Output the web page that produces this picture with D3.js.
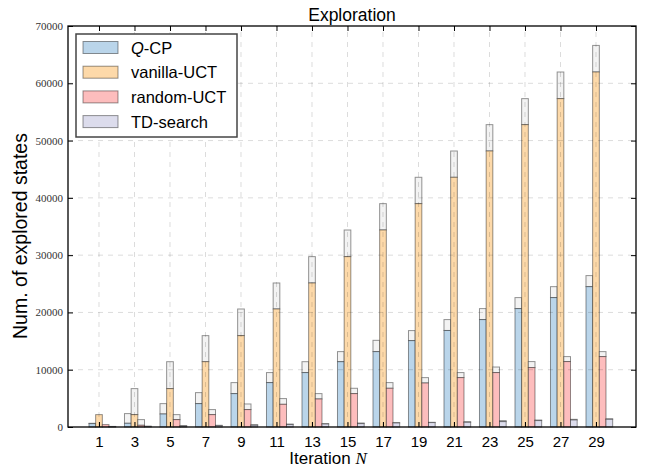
<!DOCTYPE html>
<html>
<head>
<meta charset="utf-8">
<script src="https://cdn.jsdelivr.net/npm/d3@7"></script>
<style>
  body { margin: 0; background: #fff; }
  svg { display: block; font-family: "Liberation Sans", Arial, sans-serif; }
</style>
</head>
<body>
<svg id="chart" width="646" height="470"></svg>
<script>
// iterations on the x axis
var iterations = [1, 3, 5, 7, 9, 11, 13, 15, 17, 19, 21, 23, 25, 27, 29];

// coloured part of each bar (explored states)
var qcp     = [590, 650, 2270, 4080, 5830, 7750, 9500, 11400, 13160, 15080, 16850, 18750, 20670, 22590, 24500];
var vanilla = [2160, 2160, 6700, 11400, 15950, 20600, 25140, 29740, 34390, 38990, 43590, 48180, 52780, 57320, 61970];
var random  = [420, 300, 1290, 2160, 3040, 3960, 4890, 5830, 6760, 7680, 8620, 9500, 10370, 11420, 12290];
var tdsearch = [50, 100, 150, 250, 300, 420, 520, 590, 700, 770, 820, 940, 1120, 1220, 1340];

// top of the white part stacked above each bar
var qcpTop     = [650, 2340, 4080, 6000, 7750, 9500, 11400, 13160, 15130, 16830, 18750, 20670, 22590, 24500, 26430];
var vanillaTop = [2160, 6700, 11400, 15950, 20600, 25140, 29740, 34390, 38990, 43590, 48180, 52780, 57320, 61970, 66610];
var randomTop  = [420, 1290, 2160, 3040, 4020, 4960, 5830, 6760, 7750, 8620, 9500, 10470, 11420, 12290, 13160];
var tdTop      = [100, 150, 250, 300, 420, 520, 590, 700, 770, 820, 940, 1120, 1220, 1340, 1450];

var yTicks = [0, 10000, 20000, 30000, 40000, 50000, 60000, 70000];

var series = [
  {name: "Q-CP", vals: qcp, tops: qcpTop, color: "#bad5ea"},
  {name: "vanilla-UCT", vals: vanilla, tops: vanillaTop, color: "#fdd9a9"},
  {name: "random-UCT", vals: random, tops: randomTop, color: "#fdbdbd"},
  {name: "TD-search", vals: tdsearch, tops: tdTop, color: "#dcdcec"}
];

var margin = {left: 68, right: 10, top: 26, bottom: 43};
var W = 646, H = 470;
var svg = d3.select("#chart");

var x = d3.scaleLinear()
  .domain([-0.746, 31.254])
  .range([margin.left, W - margin.right]);

var y = d3.scaleLinear().domain([0, 70000]).range([H - margin.bottom, margin.top]);

var bw = (x(3) - x(1)) * 0.188;

//// bars
var g = svg.append("g");
series.forEach(function(s, k) {
  var grp = g.append("g");
  // white part on top
  grp.selectAll(".top")
    .data(iterations)
    .enter()
    .append("rect")
    .attr("x", (d) => x(d) + (k - 1.5) * bw)
    .attr("width", bw)
    .attr("y", (d, i) => y(s.tops[i]))
    .attr("height", (d, i) => Math.max(0, y(s.vals[i]) - y(s.tops[i])))
    .attr("fill", "#f3f3f3")
    .attr("stroke", "rgba(0,0,0,0.42)")
    .attr("stroke-width", 1);
  grp.selectAll(".val")
    .data(iterations)
    .enter()
    .append("rect")
    .attr("x", (d) => x(d) + (k - 1.5) * bw)
    .attr("width", bw)
    .attr("y", (d, i) => y(s.vals[i]))
    .attr("height", (d, i) => y(0) - y(s.vals[i]))
    .attr("fill", s.color)
    .attr("stroke", "rgba(0,0,0,0.42)")
    .attr("stroke-width", 1);
});

//// grid on top (dashed, light)
var grid = svg.append("g").attr("stroke", "rgba(0,0,0,0.14)").attr("stroke-dasharray", "5,5");
grid.selectAll(".gx")
  .data(iterations)
  .enter()
  .append("line")
  .attr("x1", d => x(d)).attr("x2", d => x(d))
  .attr("y1", y(0)).attr("y2", y(70000));
grid.selectAll(".gy")
  .data(yTicks.slice(1, -1))
  .enter()
  .append("line")
  .attr("y1", d => y(d)).attr("y2", d => y(d))
  .attr("x1", margin.left).attr("x2", W - margin.right);

//// axes
var xAxis = d3.axisBottom(x).tickValues(iterations).tickSizeInner(-5).tickSizeOuter(0).tickPadding(9);
var xTop = d3.axisTop(x).tickValues(iterations).tickSizeInner(-5).tickSizeOuter(0).tickFormat("");
var yAxis = d3.axisLeft(y).tickValues(yTicks).tickSizeInner(-5).tickSizeOuter(0).tickPadding(5).tickFormat(d3.format("d"));
var yRight = d3.axisRight(y).tickValues(yTicks).tickSizeInner(-5).tickSizeOuter(0).tickFormat("");

var gx = svg.append("g").attr("transform", "translate(0," + y(0) + ")").call(xAxis);
gx.selectAll("text").attr("font-size", "15px").attr("font-family", "Liberation Sans, Arial, sans-serif").attr("fill", "#000");
svg.append("g").attr("transform", "translate(0," + y(70000) + ")").call(xTop);

var gy = svg.append("g").attr("transform", "translate(" + margin.left + ",0)").call(yAxis);
gy.selectAll("text").attr("font-size", "11px").attr("font-family", "Liberation Serif, serif").attr("fill", "#333");
svg.append("g").attr("transform", "translate(" + (W - margin.right) + ",0)").call(yRight);

svg.selectAll(".domain").remove();
svg.selectAll(".tick line").attr("stroke", "#000");

// frame
svg.append("rect")
  .attr("x", margin.left).attr("y", margin.top)
  .attr("width", W - margin.right - margin.left)
  .attr("height", H - margin.bottom - margin.top)
  .attr("fill", "none").attr("stroke", "#000").attr("stroke-width", 1.3);

//// labels
svg.append("text")
  .attr("x", (margin.left + W - margin.right) / 2).attr("y", 21)
  .attr("text-anchor", "middle").attr("font-size", "17.5px")
  .text("Exploration");

var xl = svg.append("text")
  .attr("x", 328).attr("y", 464)
  .attr("text-anchor", "middle").attr("font-size", "17px");
xl.append("tspan").text("Iteration ");
xl.append("tspan").attr("font-style", "italic").attr("font-family", "Liberation Serif, serif").text("N");

svg.append("text")
  .attr("transform", "translate(27,236) rotate(-90)")
  .attr("text-anchor", "middle").attr("font-size", "19.5px")
  .text("Num. of explored states");

//// legend
var leg = svg.append("g");
leg.append("rect")
  .attr("x", 76).attr("y", 34).attr("width", 161).attr("height", 103)
  .attr("fill", "#fff").attr("stroke", "#444").attr("stroke-width", 1.5);
series.forEach(function(s, k) {
  var cy = 47.5 + k * 24.7;
  leg.append("rect")
    .attr("x", 83).attr("y", cy - 6).attr("width", 35).attr("height", 12)
    .attr("fill", s.color).attr("stroke", "rgba(0,0,0,0.42)");
  var t = leg.append("text").attr("x", 131).attr("y", cy + 6).attr("font-size", "16.5px");
  if (k === 0) {
    t.append("tspan").attr("font-style", "italic").text("Q");
    t.append("tspan").text("-CP");
  } else {
    t.text(s.name);
  }
});
</script>
</body>
</html>
